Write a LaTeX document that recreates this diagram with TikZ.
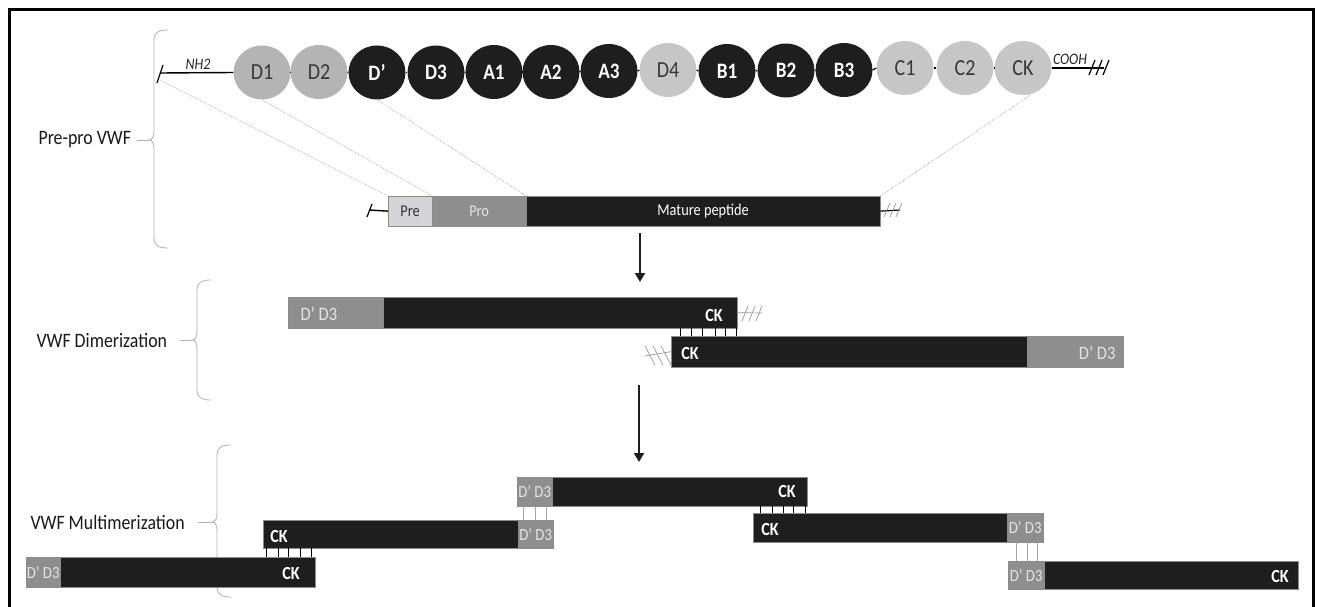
\documentclass[tikz,border=0pt]{standalone}
\usepackage{fontspec}
\setmainfont{Carlito}[FakeStretch=0.87]
\usetikzlibrary{arrows.meta,shapes.geometric}

\definecolor{dk}{HTML}{1E1E1E}
\definecolor{lgA}{HTML}{B4B4B4}
\definecolor{lgB}{HTML}{C6C6C6}
\definecolor{midg}{HTML}{8E8E8E}
\definecolor{preg}{HTML}{D4D4D8}
\definecolor{brc}{HTML}{B0B0B0}
\definecolor{dtxt}{HTML}{E4E4E4}

\tikzset{
  dom/.style={ellipse, inner sep=0pt, minimum width=57pt, minimum height=54pt,
              font=\fontsize{23}{25}\selectfont},
  domL/.style={dom, fill=lgB, text=black!78},
  domLa/.style={domL, fill=lgA},
  domD/.style={dom, fill=dk, text=white, font=\fontsize{22}{24}\selectfont\bfseries},
  seg/.style={rectangle, inner sep=0pt, anchor=north west, draw=black!45, line width=0.3pt},
  blk/.style={seg, fill=dk},
  gry/.style={seg, fill=midg},
  lbl/.style={anchor=west, font=\fontsize{20.5}{22}\selectfont, text=black!90},
  ck/.style={font=\fontsize{18.5}{20}\selectfont\bfseries, text=white},
  dd/.style={font=\fontsize{17}{19}\selectfont, text=dtxt},
  brc/.style={draw=brc, line width=0.8pt},
  dotln/.style={draw=black!40, densely dotted, line width=0.6pt},
  arr/.style={draw=dk, line width=2pt, -{Triangle[length=9pt,width=10pt]}},
  link/.style={draw=black, line width=0.8pt},
  glink/.style={draw=black!35, line width=0.8pt},
  tick/.style={draw=black, line width=1.2pt},
  gtick/.style={draw=black!40, line width=0.7pt},
  term/.style={anchor=base, font=\fontsize{16}{18}\selectfont\itshape, text=black!85},
  bartxt/.style={font=\fontsize{16.5}{18}\selectfont}
}

% curly bracket: x of the stem, top, tip and bottom y
\newcommand\vwfbrace[4]{%
  \draw[brc] (#1+14,#2) .. controls (#1+4,#2) and (#1,#2+3) .. (#1,#2+10)
    -- (#1,#3-8) .. controls (#1,#3-3) and (#1-2,#3) .. (#1-5,#3)
    .. controls (#1-2,#3) and (#1,#3+3) .. (#1,#3+8)
    -- (#1,#4-10) .. controls (#1,#4-3) and (#1+4,#4) .. (#1+14,#4);}

\begin{document}
\begin{tikzpicture}[x=1pt,y=-1pt]
\useasboundingbox (0,0) rectangle (1319,607);
\fill[white] (0,0) rectangle (1319,607);

% outer frame
\draw[line width=3pt] (9.5,607) -- (9.5,9.5) -- (1313.5,9.5) -- (1313.5,607);

% ---------- pre-pro VWF domain chain ----------
\foreach \n/\x/\y/\s/\t in {
  D1/262/72.5/domLa/D1, D2/319/72/domLa/D2, Dp/377/72.5/domD/D’, D3/436/72.5/domD/D3,
  A1/494/72/domD/A1, A2/551/72/domD/A2, A3/609/71/domD/A3, D4/668/70/domL/D4,
  B1/727/71/domD/B1, B2/786/70.5/domD/B2, B3/844/70/domD/B3,
  C1/905/68/domL/C1, C2/965/68/domL/C2, CK/1023/68/domL/CK}
  \node[\s] (\n) at (\x,\y) {\t};

\foreach \a/\b in {D1/D2, D2/Dp, Dp/D3, D3/A1, A1/A2, A2/A3, A3/D4, D4/B1,
                   B1/B2, B2/B3, B3/C1, C1/C2, C2/CK}
  \draw[line width=1.2pt] (\a.east) -- (\b.west);

% N-terminal end
\coordinate (nh2s) at (160,80);
\draw[tick] (157,83) -- (163,65);
\draw[line width=1.4pt] (160,73) -- (D1.west);
\node[term] (nh2) at (198,70) {NH2};

% C-terminal end
\draw[line width=1.4pt] (CK.east) -- (1104,68);
\foreach \x in {1092,1099,1106} \draw[tick] (\x-3,75) -- (\x+3,60);
\node[term] (cooh) at (1070,65) {COOH};

% pre-pro bar
\node[seg, fill=preg, minimum width=44pt, minimum height=30pt, bartxt, text=black!80] (pre) at (388,196) {Pre};
\node[gry, minimum width=94pt, minimum height=30pt, bartxt, text=dtxt] (pro) at (432,196) {Pro};
\node[blk, minimum width=354pt, minimum height=30pt, bartxt, text=white] (mat) at (526,196) {Mature peptide};
\draw[tick] (367,217) -- (372,204);
\draw[line width=1.4pt] (369,210) -- (pre.west);
\coordinate (matend) at (900,210);
\draw[line width=1.2pt] (mat.east) -- (matend);
\foreach \x in {887,893,899} \draw[gtick] (\x-3,217) -- (\x+3,203);

% mapping of domains onto the bar
\draw[dotln] (nh2s) -- (pre.north west);
\draw[dotln] (D1.south) -- (pre.north east);
\draw[dotln] (Dp.south) -- (pro.north east);
\draw[dotln] (CK.-70) -- (mat.north east);

% labels and brackets
\node[lbl] (lpp) at (35,140) {Pre-pro VWF};
\vwfbrace{154}{30}{140}{248}
\draw[brc] (149,140) -- (137,140);

\node[lbl] (ldim) at (33,340) {VWF Dimerization};
\vwfbrace{197}{280}{340}{400}
\draw[brc] (192,340) -- (180,340);

\node[lbl] (lmul) at (27,522) {VWF Multimerization};
\vwfbrace{217}{445}{522}{597}
\draw[brc] (212,522) -- (198,522);

% arrows
\coordinate (a1s) at (640,233);
\coordinate (a1e) at (640,282);
\draw[arr] (a1s) -- (a1e);
\coordinate (a2s) at (639,385);
\coordinate (a2e) at (639,462);
\draw[arr] (a2s) -- (a2e);

% ---------- dimer ----------
\node[gry, minimum width=95pt, minimum height=31pt] (m1g) at (288,297) {};
\node[blk, minimum width=354pt, minimum height=31pt] (m1b) at (383,297) {};
\node[dd, font=\fontsize{19}{21}\selectfont, anchor=west] at (297,314) {D’ D3};
\node[ck] at (714,315) {CK};
\draw[gtick] (m1b.east) -- (762,313);
\foreach \x in {745,752,759} \draw[gtick] (\x-3,321) -- (\x+3,306);

\node[blk, minimum width=356pt, minimum height=31pt] (m2b) at (671,336) {};
\node[gry, minimum width=96pt, minimum height=31pt] (m2g) at (1027,336) {};
\node[ck] at (690,353) {CK};
\node[dd, font=\fontsize{19}{21}\selectfont, anchor=east] at (1119,353) {D’ D3};
\draw[gtick] (645,356) -- (m2b.west);
\foreach \x in {650,658,666} \draw[gtick] (\x-5,346) -- (\x+5,365);

\foreach \x in {680,691,702,715,725,736} \draw[link] (\x,328) -- (\x,336);

% ---------- multimer ----------
% A
\node[gry, minimum width=34pt, minimum height=30pt] (Ag) at (26,557) {};
\node[blk, minimum width=255pt, minimum height=30pt] (Ab) at (60,557) {};
\node[dd] at (Ag.center) {D’ D3};
\node[ck] at (291,573) {CK};
% B
\node[blk, minimum width=255pt, minimum height=28pt] (Bb) at (263,520) {};
\node[gry, minimum width=35pt, minimum height=28pt] (Bg) at (518,520) {};
\node[ck] at (279,536) {CK};
\node[dd] at (Bg.center) {D’ D3};
% C
\node[gry, minimum width=35pt, minimum height=29pt] (Cg) at (517,477) {};
\node[blk, minimum width=255pt, minimum height=29pt] (Cb) at (552,477) {};
\node[dd] at (Cg.center) {D’ D3};
\node[ck] at (787,491) {CK};
% D
\node[blk, minimum width=254pt, minimum height=29pt] (Db) at (753,513) {};
\node[gry, minimum width=36pt, minimum height=29pt] (Dg) at (1007,513) {};
\node[ck] at (770,529) {CK};
\node[dd] at (Dg.center) {D’ D3};
% E
\node[gry, minimum width=36pt, minimum height=28pt] (Eg) at (1008,561) {};
\node[blk, minimum width=254pt, minimum height=28pt] (Eb) at (1044,561) {};
\node[dd] at (Eg.center) {D’ D3};
\node[ck] at (1280,576) {CK};

% inter-subunit bonds
\foreach \x in {266,278,288,300,311} \draw[link] (\x,548) -- (\x,557);
\foreach \x in {523,535,546} \draw[glink] (\x,506) -- (\x,520);
\foreach \x in {760,772,783,793,805} \draw[link] (\x,506) -- (\x,513);
\foreach \x in {1016,1027,1037} \draw[glink] (\x,542) -- (\x,561);

\end{tikzpicture}
\end{document}
